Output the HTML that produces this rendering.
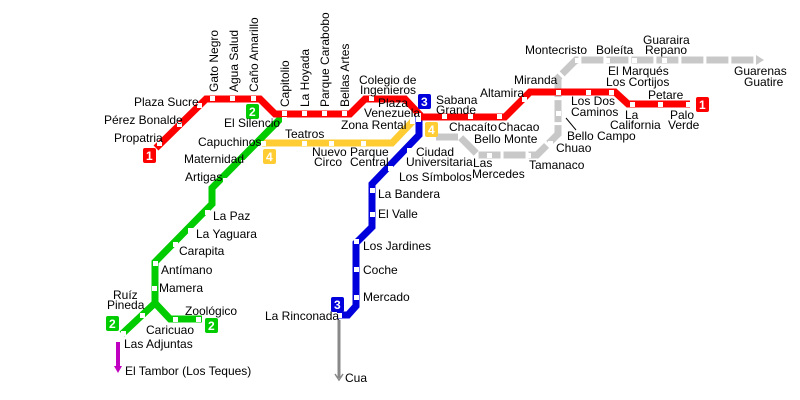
<!DOCTYPE html>
<html><head><meta charset="utf-8"><style>
html,body{margin:0;padding:0;background:#fff;width:800px;height:400px;overflow:hidden}
svg text{font-family:"Liberation Sans",sans-serif;font-size:12px;fill:#000}
.b{font-weight:bold;fill:#fff;font-size:12px}
</style></head><body>
<svg width="800" height="400" viewBox="0 0 800 400" xmlns="http://www.w3.org/2000/svg">
<g fill="none" stroke-linejoin="miter">
<polyline points="436,137 460,137 478,155 537,155 558,134 558,78 576,60 758,60" stroke="#c8c8c8" stroke-width="7" stroke-dasharray="22,3"/>
<polygon points="756,55 764,60 756,65" fill="#c8c8c8" stroke="none"/>
<line x1="566" y1="118" x2="576" y2="130" stroke="#000" stroke-width="1"/>
<line x1="339" y1="320" x2="339" y2="378" stroke="#888" stroke-width="3"/>
<polyline points="335,374 339,380 343,374" stroke="#888" stroke-width="1.5"/>
<line x1="118" y1="337" x2="118" y2="368" stroke="#c000c0" stroke-width="4"/>
<polygon points="114,366 118,373 122,366" fill="#c000c0" stroke="none"/>
<polyline points="262,143 392,143 413,121" stroke="#ffcc33" stroke-width="7"/>
<polyline points="285,114 212,188 212,204 155,262 155,303 122,334" stroke="#00cc00" stroke-width="7"/>
<polyline points="155,303 170,319 202,319" stroke="#00cc00" stroke-width="7"/>
<polyline points="419,112 419,135 372,184 372,227 356,243 356,306 348,315 337,315" stroke="#0000dd" stroke-width="7"/>
<polyline points="156,148 206,99 260,99 275,114 350,114 365,99 405,99 422,117 505,117 530,92 615,92 628,104 690,104" stroke="#ff0000" stroke-width="7"/>
</g>
<g fill="#fff">
<rect x="157" y="141" width="5" height="5"/><rect x="177" y="122" width="5" height="5"/><rect x="197" y="103" width="5" height="5"/>
<rect x="210" y="96" width="5" height="5"/><rect x="230" y="96" width="5" height="5"/><rect x="251" y="96" width="5" height="5"/>
<rect x="282" y="111" width="5" height="5"/><rect x="302" y="111" width="5" height="5"/><rect x="322" y="111" width="5" height="5"/><rect x="342" y="111" width="5" height="5"/>
<rect x="369" y="96" width="5" height="5"/><rect x="442" y="114" width="5" height="5"/><rect x="468" y="114" width="5" height="5"/><rect x="497" y="114" width="5" height="5"/>
<rect x="522" y="97" width="5" height="5"/><rect x="556" y="90" width="5" height="5"/><rect x="586" y="90" width="5" height="5"/><rect x="609" y="90" width="5" height="5"/>
<rect x="630" y="102" width="5" height="5"/><rect x="658" y="102" width="5" height="5"/><rect x="686" y="102" width="5" height="5"/>
<rect x="416" y="113" width="5" height="9"/>
<rect x="410" y="119" width="5" height="5"/>
<rect x="261" y="141" width="5" height="5"/><rect x="302" y="141" width="5" height="5"/><rect x="329" y="141" width="5" height="5"/><rect x="361" y="141" width="5" height="5"/>
<rect x="282" y="117" width="5" height="5"/><rect x="241" y="160" width="5" height="5"/><rect x="223" y="178" width="5" height="5"/>
<rect x="205" y="210" width="5" height="5"/><rect x="188" y="228" width="5" height="5"/><rect x="173" y="242" width="5" height="5"/>
<rect x="153" y="261" width="5" height="5"/><rect x="152" y="286" width="5" height="5"/><rect x="140" y="313" width="5" height="5"/>
<rect x="173" y="317" width="5" height="5"/><rect x="196" y="317" width="5" height="5"/><rect x="121" y="331" width="5" height="5"/>
<rect x="116" y="337" width="4" height="5"/>
<rect x="407" y="148" width="5" height="5"/><rect x="388" y="166" width="5" height="5"/><rect x="370" y="188" width="5" height="5"/><rect x="370" y="212" width="5" height="5"/>
<rect x="354" y="239" width="5" height="5"/><rect x="354" y="267" width="5" height="5"/><rect x="354" y="295" width="5" height="5"/><rect x="337" y="313" width="5" height="5"/>
<rect x="487" y="153" width="5" height="5"/><rect x="526" y="153" width="5" height="5"/><rect x="548" y="141" width="5" height="5"/><rect x="556" y="111" width="5" height="5"/>
<rect x="575" y="58" width="5" height="5"/><rect x="605" y="58" width="5" height="5"/><rect x="632" y="58" width="5" height="5"/><rect x="662" y="58" width="5" height="5"/>
</g>
<g>
<rect x="143" y="148" width="13" height="15" rx="2" fill="#ff0000"/><text class="b" x="146" y="160">1</text>
<rect x="696" y="97" width="13" height="15" rx="2" fill="#ff0000"/><text class="b" x="699" y="109">1</text>
<rect x="246" y="104" width="13" height="15" rx="2" fill="#00cc00"/><text class="b" x="249" y="116">2</text>
<rect x="106" y="316" width="13" height="15" rx="2" fill="#00cc00"/><text class="b" x="109" y="328">2</text>
<rect x="205" y="318" width="13" height="15" rx="2" fill="#00cc00"/><text class="b" x="208" y="330">2</text>
<rect x="418" y="94" width="13" height="15" rx="2" fill="#0000dd"/><text class="b" x="421" y="106">3</text>
<rect x="331" y="297" width="13" height="15" rx="2" fill="#0000dd"/><text class="b" x="334" y="309">3</text>
<rect x="263" y="149" width="13" height="15" rx="2" fill="#ffcc33"/><text class="b" x="266" y="161">4</text>
<rect x="425" y="122" width="13" height="15" rx="2" fill="#ffcc33"/><text class="b" x="428" y="134">4</text>
</g>
<g>
<text x="114" y="142">Propatria</text>
<text x="104" y="124">Pérez Bonalde</text>
<text x="134" y="106">Plaza Sucre</text>
<text transform="translate(218,92) rotate(-90)">Gato Negro</text>
<text transform="translate(238,92) rotate(-90)">Agua Salud</text>
<text transform="translate(258,92) rotate(-90)">Caño Amarillo</text>
<text transform="translate(289,107) rotate(-90)">Capitolio</text>
<text transform="translate(309,107) rotate(-90)">La Hoyada</text>
<text transform="translate(329,107) rotate(-90)">Parque Carabobo</text>
<text transform="translate(349,107) rotate(-90)">Bellas Artes</text>
<text x="359" y="84">Colegio de</text>
<text x="360" y="94">Ingenieros</text>
<text x="378" y="107">Plaza</text>
<text x="364" y="117">Venezuela</text>
<text x="341" y="129">Zona Rental</text>
<text x="224" y="127">El Silencio</text>
<text x="285" y="138">Teatros</text>
<text x="198" y="146">Capuchinos</text>
<text x="312" y="156">Nuevo</text>
<text x="314" y="166">Circo</text>
<text x="350" y="156">Parque</text>
<text x="350" y="166">Central</text>
<text x="184" y="163">Maternidad</text>
<text x="185" y="181">Artigas</text>
<text x="213" y="220">La Paz</text>
<text x="196" y="238">La Yaguara</text>
<text x="179" y="255">Carapita</text>
<text x="161" y="274">Antímano</text>
<text x="159" y="292">Mamera</text>
<text x="113" y="299">Ruíz</text>
<text x="107" y="309">Pineda</text>
<text x="185" y="315">Zoológico</text>
<text x="146" y="334">Caricuao</text>
<text x="124" y="348">Las Adjuntas</text>
<text x="125" y="375">El Tambor (Los Teques)</text>
<text x="436" y="104">Sabana</text>
<text x="436" y="114">Grande</text>
<text x="480" y="97">Altamira</text>
<text x="449" y="131">Chacaíto</text>
<text x="498" y="131">Chacao</text>
<text x="474" y="143">Bello Monte</text>
<text x="416" y="156">Ciudad</text>
<text x="406" y="166">Universitaria</text>
<text x="399" y="181">Los Símbolos</text>
<text x="378" y="198">La Bandera</text>
<text x="378" y="218">El Valle</text>
<text x="363" y="250">Los Jardines</text>
<text x="363" y="274">Coche</text>
<text x="363" y="301">Mercado</text>
<text x="265" y="320">La Rinconada</text>
<text x="345" y="382">Cua</text>
<text x="473" y="167">Las</text>
<text x="472" y="178">Mercedes</text>
<text x="529" y="169">Tamanaco</text>
<text x="556" y="152">Chuao</text>
<text x="567" y="140">Bello Campo</text>
<text x="514" y="84">Miranda</text>
<text x="571" y="105">Los Dos</text>
<text x="571" y="116">Caminos</text>
<text x="625" y="119">La</text>
<text x="610" y="129">California</text>
<text x="648" y="99">Petare</text>
<text x="670" y="119">Palo</text>
<text x="668" y="129">Verde</text>
<text x="608" y="75">El Marqués</text>
<text x="606" y="86">Los Cortijos</text>
<text x="525" y="54">Montecristo</text>
<text x="596" y="54">Boleíta</text>
<text x="643" y="44">Guaraira</text>
<text x="645" y="54">Repano</text>
<text x="734" y="75">Guarenas</text>
<text x="744" y="86">Guatire</text>
</g>
</svg>
</body></html>
